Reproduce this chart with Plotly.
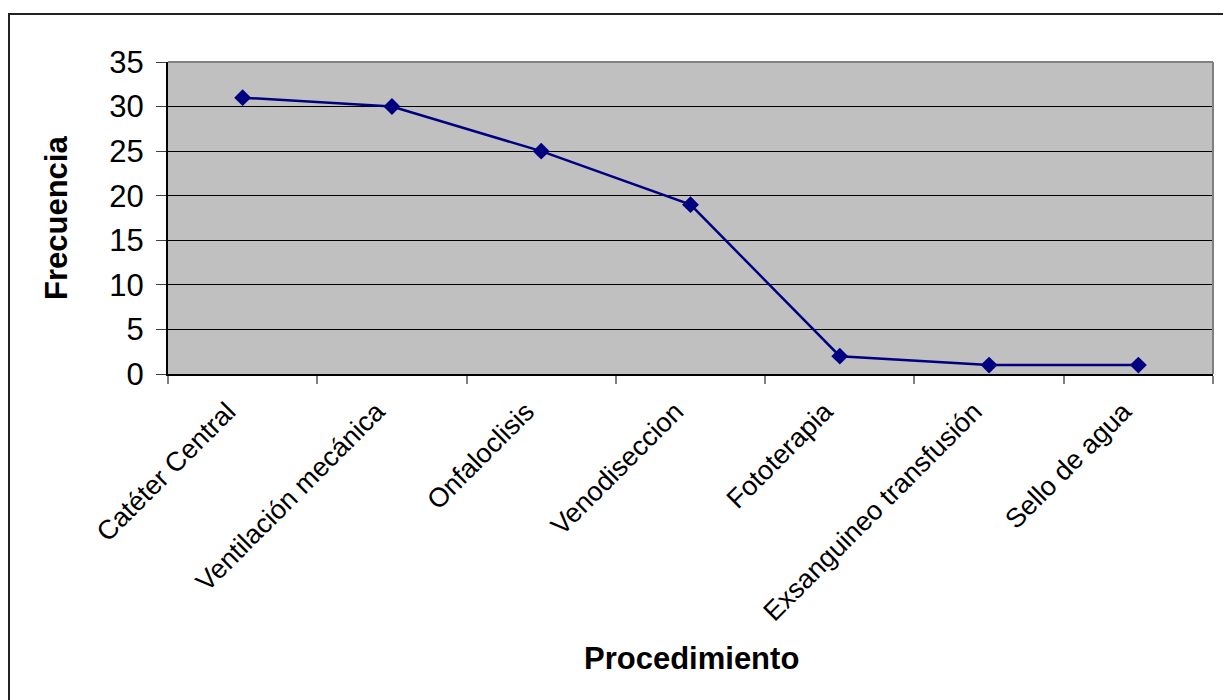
import plotly.graph_objects as go

# Procedures and how often each was recorded
procedimientos = [
    "Catéter Central",
    "Ventilación mecánica",
    "Onfaloclisis",
    "Venodiseccion",
    "Fototerapia",
    "Exsanguineo transfusión",
    "Sello de agua",
]
frecuencia = [31, 30, 25, 19, 2, 1, 1]
y_ticks = [0, 5, 10, 15, 20, 25, 30, 35]

W, H = 1223, 700
L, R, T, B = 168, 1213, 62, 374  # plot area in pixels
pw, ph = R - L, B - T


def px_x(x):
    return (x - L) / pw


def px_y(y):
    return (B - y) / ph


FONT = "Liberation Sans, Arial, sans-serif"
NAVY = "#000080"

fig = go.Figure(
    go.Scatter(
        x=procedimientos,
        y=frecuencia,
        mode="lines+markers",
        line=dict(color=NAVY, width=2.5),
        marker=dict(symbol="diamond", size=13, color=NAVY),
        cliponaxis=False,
        hoverinfo="x+y",
    )
)

fig.update_layout(
    width=W,
    height=H,
    margin=dict(l=L, r=W - R, t=T, b=H - B, autoexpand=False),
    paper_bgcolor="white",
    plot_bgcolor="#C0C0C0",
    showlegend=False,
    font=dict(family=FONT, color="black"),
    xaxis=dict(
        type="category",
        range=[-0.5, len(procedimientos) - 0.5],
        tickangle=-45,
        tickfont=dict(size=27, family=FONT, color="black"),
        ticks="outside",
        tickson="boundaries",
        ticklen=8,
        tickcolor="#808080",
        tickwidth=2,
        ticklabelstandoff=9,
        ticklabelshift=-15,
        showline=True,
        linecolor="black",
        linewidth=2,
        showgrid=False,
        zeroline=False,
        fixedrange=True,
    ),
    yaxis=dict(
        range=[0, 35],
        tickvals=y_ticks,
        ticktext=[str(v) for v in y_ticks],
        tickfont=dict(size=31, family=FONT, color="black"),
        ticks="outside",
        ticklen=10,
        tickcolor="#404040",
        tickwidth=1,
        ticklabelstandoff=6,
        showline=True,
        linecolor="black",
        linewidth=2,
        showgrid=True,
        gridcolor="black",
        gridwidth=1,
        zeroline=False,
        fixedrange=True,
    ),
    annotations=[
        dict(
            text="<b>Frecuencia</b>",
            xref="paper", yref="paper",
            x=px_x(56), y=px_y(218),
            xanchor="center", yanchor="middle",
            textangle=-90,
            showarrow=False,
            font=dict(size=31, family=FONT, color="black"),
        ),
        dict(
            text="<b>Procedimiento</b>",
            xref="paper", yref="paper",
            x=px_x(691), y=px_y(658),
            xanchor="center", yanchor="middle",
            showarrow=False,
            font=dict(size=31, family=FONT, color="black"),
        ),
    ],
    shapes=[
        # gray frame on the top and right of the plot area
        dict(type="line", xref="paper", yref="paper", x0=0, x1=1, y0=1, y1=1,
             line=dict(color="#808080", width=2), layer="above"),
        dict(type="line", xref="paper", yref="paper", x0=1, x1=1, y0=0, y1=1,
             line=dict(color="#808080", width=2), layer="above"),
        # outer chart frame
        dict(type="rect", xref="paper", yref="paper",
             x0=px_x(9), x1=px_x(1230), y0=px_y(14), y1=px_y(720),
             line=dict(color="#222222", width=2), fillcolor="rgba(0,0,0,0)",
             layer="below"),
    ],
)

fig.write_html("out.html")
